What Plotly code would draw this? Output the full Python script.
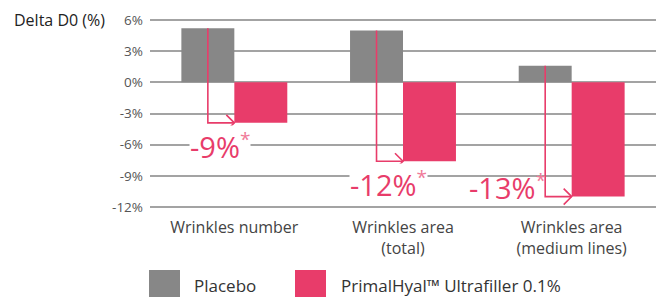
import plotly.graph_objects as go

# ---- data ----
categories = ["Wrinkles number", "Wrinkles area<br>(total)", "Wrinkles area<br>(medium lines)"]
series_names = ["Placebo", "PrimalHyal™ Ultrafiller 0.1%"]
placebo = [5.2, 5.0, 1.6]
primalhyal = [-3.9, -7.6, -11.0]
diff_labels = ["-9%", "-12%", "-13%"]
y_ticks = [6, 3, 0, -3, -6, -9, -12]
y_ticktext = ["6%", "3%", "0%", "-3%", "-6%", "-9%", "-12%"]

GRAY = "#878787"
PINK = "#E83C6A"
FONT = "Open Sans"

W, H = 663, 297
ML, MR, MT, MB = 150, 7, 19, 89
plot_w = W - ML - MR
plot_h = H - MT - MB

x_idx = list(range(len(categories)))
bargap = 0.372
bar_w = (1 - bargap) / 2

fig = go.Figure()
fig.add_trace(go.Bar(x=x_idx, y=placebo, name=series_names[0], marker_color=GRAY,
                     marker_line_width=0, showlegend=False))
fig.add_trace(go.Bar(x=x_idx, y=primalhyal, name=series_names[1], marker_color=PINK,
                     marker_line_width=0, showlegend=False))

shapes = []
annotations = []
x_per_px = 3.0 / plot_w
y_range = (-12.1, 6.1)
y_per_px = (y_range[1] - y_range[0]) / plot_h
head_dx = 8 * x_per_px
head_dy = 8 * y_per_px
for i in x_idx:
    xv = i - bar_w / 2
    xe = i
    y0 = placebo[i]
    y1 = primalhyal[i]
    path = f"M {xv},{y0} L {xv},{y1} L {xe},{y1}"
    shapes.append(dict(type="path", path=path, xref="x", yref="y",
                       line=dict(color=PINK, width=1.6), layer="above"))
    head = f"M {xe-head_dx},{y1+head_dy} L {xe},{y1} L {xe-head_dx},{y1-head_dy}"
    shapes.append(dict(type="path", path=head, xref="x", yref="y",
                       line=dict(color=PINK, width=1.6), layer="above"))

label_pos = [(-0.085, -23, True), (0.914, -23, True), (1.62, 10, False)]
for i, (lx, ys, bg) in enumerate(label_pos):
    annotations.append(dict(
        x=lx, y=primalhyal[i], xref="x", yref="y", yshift=ys,
        text=f"{diff_labels[i]}<sup><span style='color:#F07A98;font-size:19px'>*</span></sup>",
        showarrow=False, font=dict(family=FONT, size=29, color=PINK),
        bgcolor="white" if bg else "rgba(0,0,0,0)", borderpad=0))

# manual legend / title helpers
def px_x(px):
    return (px - ML) / plot_w

def px_y(py):
    return (H - MB - py) / plot_h

# axis title
annotations.append(dict(x=px_x(12), y=px_y(20), xref="paper", yref="paper",
                        xanchor="left", yanchor="middle", text="Delta D0 (%)", showarrow=False,
                        font=dict(family=FONT, size=16, color="#222")))

legend_items = [(149, 192, GRAY, series_names[0]), (295, 339, PINK, series_names[1])]
for sx, tx, col, name in legend_items:
    shapes.append(dict(type="rect", xref="paper", yref="paper",
                       x0=px_x(sx), x1=px_x(sx + 31), y0=px_y(270), y1=px_y(301),
                       fillcolor=col, line_width=0))
    annotations.append(dict(x=px_x(tx), y=px_y(285), xref="paper", yref="paper",
                            xanchor="left", yanchor="middle", text=name, showarrow=False,
                            font=dict(family=FONT, size=17, color="#333")))

fig.update_layout(
    width=W, height=H,
    margin=dict(l=ML, r=MR, t=MT, b=MB),
    paper_bgcolor="white", plot_bgcolor="white",
    barmode="group", bargap=bargap, bargroupgap=0,
    shapes=shapes, annotations=annotations,
    font=dict(family=FONT),
)
fig.update_xaxes(range=[-0.5, 2.5], tickvals=x_idx, ticktext=categories, ticks="",
                 showgrid=False, zeroline=False, showline=False,
                 ticklabelstandoff=8,
                 tickfont=dict(family=FONT, size=16, color="#444"))
fig.update_yaxes(range=list(y_range), tickvals=y_ticks, ticktext=y_ticktext, ticks="",
                 showgrid=True, gridcolor="#A3A3A3", gridwidth=1.6,
                 zeroline=True, zerolinecolor="#A3A3A3", zerolinewidth=1.6, showline=False,
                 ticklabelstandoff=6,
                 tickfont=dict(family=FONT, size=13.5, color="#555"))

fig.write_html("out.html", config={"displayModeBar": False},
               post_script="document.body.style.margin='0';document.body.style.overflow='hidden';")
